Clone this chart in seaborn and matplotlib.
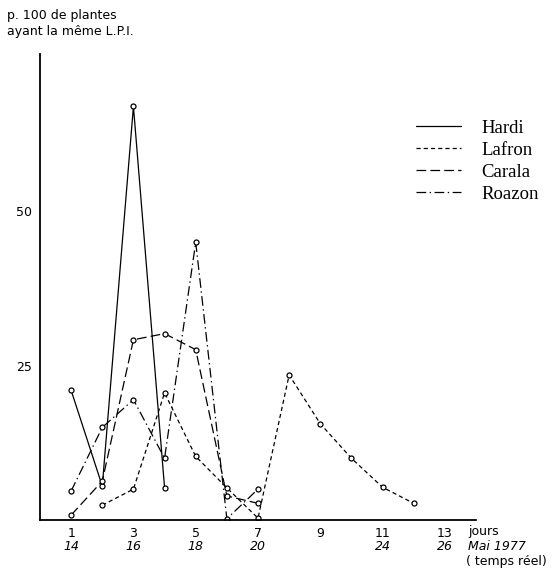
import matplotlib
matplotlib.use("Agg")
import matplotlib.pyplot as plt
from matplotlib.lines import Line2D
import numpy as np
import pandas as pd
import seaborn as sns

# Pourcentage de plantes ayant la même L.P.I., par jour d'observation
hardi_jours = [1, 2, 3, 4]
hardi_pct = [21, 5.5, 67, 5.2]

lafron_jours = [2, 3, 4, 5, 6, 7, 8, 9, 10, 11, 12]
lafron_pct = [2.4, 5, 20.6, 10.3, 5.2, 0.3, 23.5, 15.6, 10, 5.3, 2.7]

carala_jours = [1, 2, 3, 4, 5, 6, 7]
carala_pct = [0.8, 6.3, 29.2, 30.2, 27.6, 3.9, 2.7]

roazon_jours = [1, 2, 3, 4, 5, 6, 7]
roazon_pct = [4.7, 15, 19.5, 10, 45, 0.2, 5]

varietes = ["Hardi", "Lafron", "Carala", "Roazon"]

# Axis labels
jours_labels = ["1", "3", "5", "7", "9", "11", "13"]
dates_mai = ["14", "16", "18", "20", "", "24", "26"]
y_labels = ["25", "50"]

frames = []
for nom, j, p in [("Hardi", hardi_jours, hardi_pct),
                  ("Lafron", lafron_jours, lafron_pct),
                  ("Carala", carala_jours, carala_pct),
                  ("Roazon", roazon_jours, roazon_pct)]:
    frames.append(pd.DataFrame({"jour": j, "pct": p, "variete": nom}))
df = pd.concat(frames, ignore_index=True)

sns.set_style("white")
plt.rcParams["font.family"] = ["DejaVu Sans"]
plt.rcParams["lines.scale_dashes"] = False
plt.rcParams["text.color"] = "black"

styles = {
    "Hardi": "",
    "Lafron": (3, 2.2),
    "Carala": (7, 3),
    "Roazon": (7, 2.5, 1, 2.5),
}

fig = plt.figure(figsize=(5.6, 5.68), dpi=100)
ax = fig.add_axes([40 / 560, 48 / 568, 436 / 560, 466 / 568])

sns.lineplot(data=df, x="jour", y="pct", style="variete", style_order=varietes,
             dashes=styles, markers={v: "o" for v in varietes},
             color="black", linewidth=0.9, markersize=3.6,
             markerfacecolor="white", markeredgecolor="black",
             markeredgewidth=0.9, legend=False, ax=ax, sort=True)

ax.set_xlim(0, 14)
ax.set_ylim(0, 75.5)
for s in ["top", "right"]:
    ax.spines[s].set_visible(False)
for s in ["left", "bottom"]:
    ax.spines[s].set_linewidth(1.3)
    ax.spines[s].set_color("black")

ax.set_xticks(range(1, 15))
ax.set_xticklabels([jours_labels[(d - 1) // 2] if d % 2 == 1 else "" for d in range(1, 15)],
                   fontsize=9)
ax.set_yticks([25, 50, 75])
ax.set_yticklabels(y_labels + [""], fontsize=9)
ax.tick_params(axis="x", direction="inout", length=4, width=1, pad=3, colors="black")
ax.tick_params(axis="y", direction="inout", length=7, width=1, pad=2, colors="black")
ax.set_xlabel("")
ax.set_ylabel("")

# Dates réelles (mai 1977) sous les jours
for k, lab in enumerate(dates_mai):
    if lab:
        ax.text(1 + 2 * k, -27 / 466 * 75.5, lab, ha="center", va="center",
                fontsize=9, style="italic", transform=ax.transData)

fig.text(468 / 560, 1 - 531 / 568, "jours", ha="left", va="center", fontsize=9)
fig.text(468 / 560, 1 - 547 / 568, "Mai 1977", ha="left", va="center", fontsize=9,
         style="italic")
fig.text(466 / 560, 1 - 562 / 568, "( temps réel)", ha="left", va="center", fontsize=9)

fig.text(7 / 560, 1 - 15 / 568, "p. 100 de plantes", ha="left", va="center", fontsize=9)
fig.text(7 / 560, 1 - 32 / 568, "ayant la même L.P.I.", ha="left", va="center", fontsize=9)

handles = [Line2D([], [], color="black", linewidth=0.9,
                  linestyle="-" if styles[v] == "" else (0, styles[v]))
           for v in varietes]
fig.legend(handles, varietes, loc="upper left", bbox_to_anchor=(408 / 560, 1 - 112 / 568),
           frameon=False, prop={"family": "Liberation Serif", "size": 13.5},
           handlelength=2.4, handletextpad=1.1, labelspacing=0.26, borderaxespad=0)

fig.savefig("out.png", dpi=100)
